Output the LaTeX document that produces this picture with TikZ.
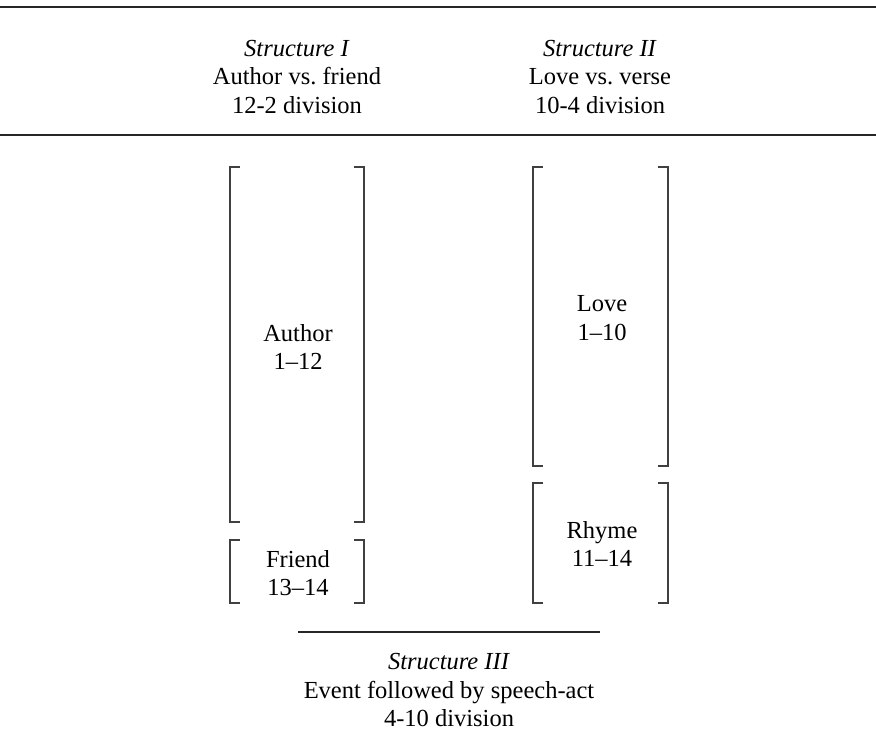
\documentclass[tikz,border=0pt]{standalone}
\usepackage{fontspec}
\setmainfont{Liberation Serif}
\begin{document}
\begin{tikzpicture}[x=1pt,y=-1pt,
  txt/.style={inner sep=0pt,align=center,font=\fontsize{24.5}{28.5}\selectfont},
  rulethick/.style={line width=2pt,black!85},
  rulethin/.style={line width=1.1pt,black!85},
  brk/.style={line width=1.1pt,black!75}]
\useasboundingbox (0,0) rectangle (876,745);
% rules
\draw[rulethick] (0,7) -- (876,7);
\draw[rulethick] (0,135) -- (876,135);
\draw[rulethin] (298,632) -- (600,632);
% headers
\node[txt] (s1) at (297,77) {\textit{Structure I}\\Author vs.\ friend\\12-2 division};
\node[txt] (s2) at (600,77) {\textit{Structure II}\\Love vs.\ verse\\10-4 division};
\node[txt] (s3) at (449,690) {\textit{Structure III}\\Event followed by speech-act\\4-10 division};
% left brackets
\draw[brk] (240,167) -- (230,167) -- (230,522) -- (240,522);
\draw[brk] (354,167) -- (364,167) -- (364,522) -- (354,522);
\draw[brk] (240,540) -- (230,540) -- (230,603) -- (240,603);
\draw[brk] (354,540) -- (364,540) -- (364,603) -- (354,603);
% right brackets
\draw[brk] (543,167) -- (533,167) -- (533,466) -- (543,466);
\draw[brk] (658,167) -- (668,167) -- (668,466) -- (658,466);
\draw[brk] (543,483) -- (533,483) -- (533,603) -- (543,603);
\draw[brk] (658,483) -- (668,483) -- (668,603) -- (658,603);
% labels
\node[txt] (author) at (298,347) {Author\\1--12};
\node[txt] (friend) at (298,573) {Friend\\13--14};
\node[txt] (love) at (602,318) {Love\\1--10};
\node[txt] (rhyme) at (602,544) {Rhyme\\11--14};
\end{tikzpicture}
\end{document}
